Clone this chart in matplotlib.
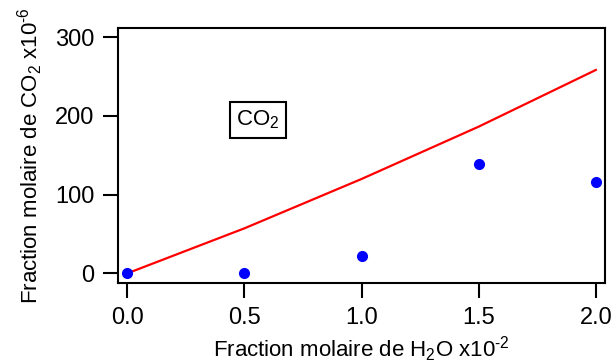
import matplotlib
matplotlib.use("Agg")
import matplotlib.pyplot as plt

plt.rcParams['font.family'] = ['Liberation Sans', 'DejaVu Sans']
plt.rcParams['mathtext.fontset'] = 'custom'
plt.rcParams['mathtext.rm'] = 'Liberation Sans'
plt.rcParams['mathtext.it'] = 'Liberation Sans'
plt.rcParams['mathtext.default'] = 'regular'

# données
x_mes = [0.0, 0.5, 1.0, 1.5, 2.0]
co2_mes = [0.0, 0.0, 22.4, 138.9, 115.6]
x_mod = [0.0, 0.5, 1.0, 1.5, 2.0]
co2_mod = [0.0, 57.2, 119.9, 186.4, 258.4]
xticks = [0.0, 0.5, 1.0, 1.5, 2.0]
yticks = [0, 100, 200, 300]

fig = plt.figure(figsize=(6.13, 3.63), dpi=100)
ax = fig.add_axes([118 / 613, 1 - 283 / 363, 487 / 613, 255 / 363])

ax.plot(x_mod, co2_mod, color='#ff0000', lw=1.6, zorder=2)
ax.plot(x_mes, co2_mes, 'o', color='#0000ff', ms=7, zorder=3, clip_on=False)

ax.set_xlim(-0.04, 2.039)
ax.set_ylim(-12.3, 311.7)
ax.set_xticks(xticks)
ax.set_xticklabels(['%.1f' % v for v in xticks])
ax.set_yticks(yticks)

for s in ax.spines.values():
    s.set_linewidth(1.5)
ax.tick_params(direction='out', length=11, width=1.5, labelsize=17, pad=6)

ax.set_xlabel(r'Fraction molaire de H$_2$O x10$^{\text{-}2}$', fontsize=16, labelpad=4)
ax.set_ylabel(r'Fraction molaire de CO$_2$ x10$^{\text{-}6}$', fontsize=16, labelpad=7)

ax.text(0.558, 194.8, r'CO$_2$', fontsize=16, ha='center', va='center',
        bbox=dict(boxstyle='square,pad=0.3', fc='white', ec='black', lw=1.5))

fig.savefig('out.png', dpi=100)
